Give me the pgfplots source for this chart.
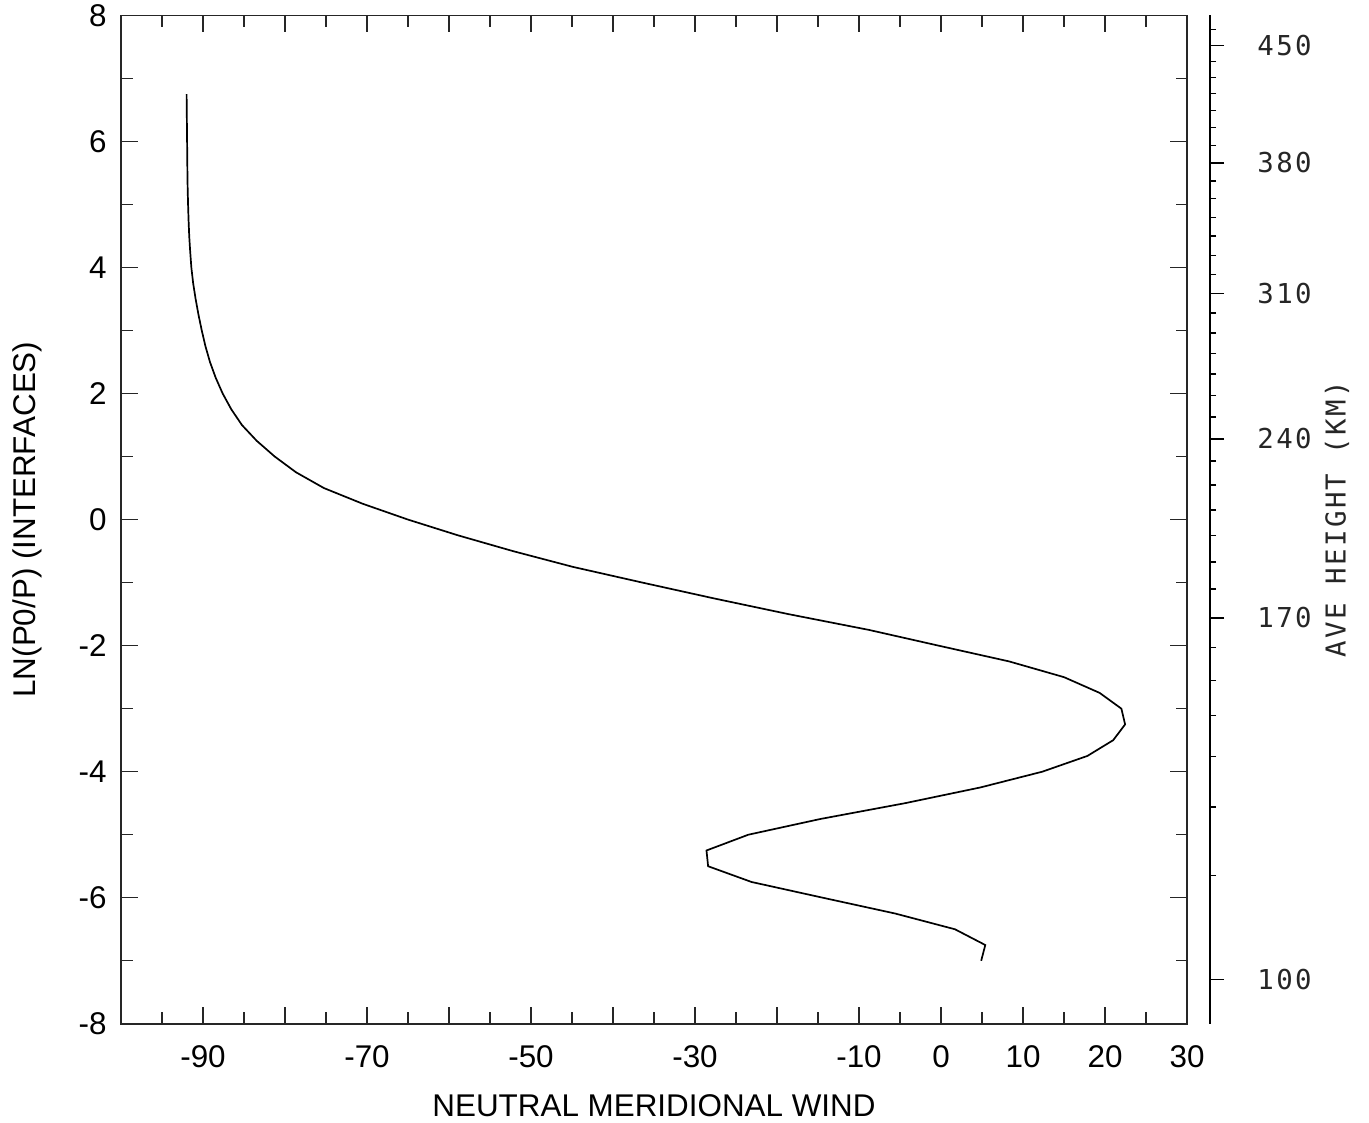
\documentclass[border=0pt]{standalone}
\usepackage{fontspec}
\setmainfont{Liberation Sans}
\newfontfamily\monofont[LetterSpace=8.8]{DejaVu Sans Mono}
\usepackage{pgfplots}
\pgfplotsset{compat=1.18}
\usepackage{pgfplotstable}

\pgfplotstableread{
lnp wind
-7.00 4.9
-6.75 5.4
-6.50 1.7
-6.25 -5.6
-6.00 -14.4
-5.75 -23.1
-5.50 -28.4
-5.25 -28.6
-5.00 -23.5
-4.75 -14.7
-4.50 -4.4
-4.25 4.8
-4.00 12.35
-3.75 17.85
-3.50 21.0
-3.25 22.45
-3.00 22.0
-2.75 19.35
-2.50 15.0
-2.25 8.3
-2.00 -0.3
-1.75 -8.8
-1.50 -18.6
-1.25 -27.7
-1.00 -36.4
-0.75 -44.9
-0.50 -52.2
-0.25 -58.9
0.00 -65.0
0.25 -70.5
0.50 -75.25
0.75 -78.65
1.00 -81.25
1.25 -83.45
1.50 -85.25
1.75 -86.55
2.00 -87.6
2.25 -88.45
2.50 -89.15
2.75 -89.7
3.00 -90.15
3.25 -90.55
3.50 -90.9
3.75 -91.2
4.00 -91.42
4.25 -91.56
4.50 -91.68
4.75 -91.76
5.00 -91.82
5.25 -91.87
5.50 -91.9
5.75 -91.92
6.00 -91.94
6.25 -91.96
6.50 -91.98
6.75 -92.0
}\windtable

\begin{document}
\begin{tikzpicture}
\useasboundingbox (-60.5pt,-49.6pt) rectangle (624pt,511.9pt);
\begin{axis}[
  at={(0pt,0pt)}, anchor=south west,
  scale only axis, width=533pt, height=504.2pt,
  xmin=-100, xmax=30, ymin=-8, ymax=8,
  xtick={-90,-80,...,30},
  xticklabels={-90,,-70,,-50,,-30,,-10,0,10,20,30},
  minor xtick={-95,-85,...,25},
  ytick={-8,-6,...,8},
  yticklabels={-8,-6,-4,-2,0,2,4,6,8},
  minor ytick={-7,-5,...,7},
  major tick length=8.5pt, minor tick length=5.75pt,
  every tick/.style={black!85, line width=0.7pt},
  axis line style={line width=0.85pt, black!85},
  tick label style={font=\fontsize{15.7}{18}\selectfont},
  xticklabel style={anchor=north, inner sep=0pt, yshift=-10.5pt},
  yticklabel style={anchor=east, inner sep=0pt, xshift=-7pt},
  xlabel={NEUTRAL MERIDIONAL WIND},
  ylabel={LN(P0/P) (INTERFACES)},
  every axis x label/.style={at={(axis description cs:0.5,0)}, anchor=north, inner sep=0pt, yshift=-35pt, font=\fontsize{15.7}{18}\selectfont},
  every axis y label/.style={at={([xshift=-47pt]axis description cs:0,0.5)}, rotate=90, anchor=center, inner sep=0pt, font=\fontsize{15.7}{18}\selectfont},
]
\addplot[black, line width=0.85pt, mark=none] table[x=wind, y=lnp] {\windtable};
\end{axis}
\begin{axis}[
  at={(11.5pt,0pt)}, anchor=south west,
  scale only axis, width=533pt, height=504.2pt,
  xmin=-100, xmax=30, ymin=-8, ymax=8,
  axis x line=none, axis y line*=right,
  axis line style={-, line width=0.85pt, black},
  ytick={-7.30,-1.56,1.28,3.59,5.66,7.52},
  yticklabels={100,170,240,310,380,450},
  minor ytick={7.78,7.27,7.015,6.76,6.49,6.22,5.94,5.37,5.09,4.79,4.50,4.19,3.89,3.28,2.96,2.64,2.31,1.97,1.63,0.93,0.55,0.155,-0.25,-0.67,-1.10,-2.03,-2.55,-3.11,-3.76,-4.56,-5.65},
  tick align=outside,
  major tick length=7pt, minor tick length=3pt,
  every tick/.style={black, line width=0.7pt},
  yticklabel style={anchor=west, inner sep=0pt, xshift=16.5pt, text=black!85, font=\monofont\fontsize{13.7}{16}\selectfont},
  ylabel={AVE HEIGHT (KM)},
  every axis y label/.style={at={([xshift=63.5pt]axis description cs:1,0.5)}, rotate=90, anchor=center, inner sep=0pt, text=black!85, font=\monofont\fontsize{13.7}{16}\selectfont},
]
\end{axis}
\end{tikzpicture}
\end{document}
